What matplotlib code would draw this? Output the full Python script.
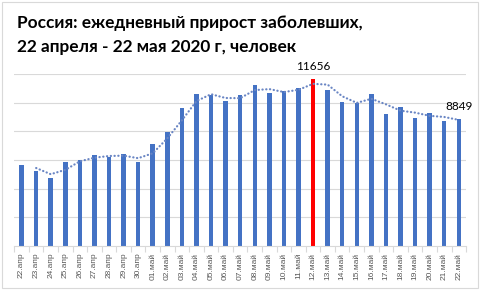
import matplotlib
matplotlib.use('Agg')
import matplotlib.pyplot as plt
import matplotlib.patches as patches
import numpy as np

dates = ['22.апр', '23.апр', '24.апр', '25.апр', '26.апр', '27.апр', '28.апр',
         '29.апр', '30.апр', '01.май', '02.май', '03.май', '04.май', '05.май',
         '06.май', '07.май', '08.май', '09.май', '10.май', '11.май', '12.май',
         '13.май', '14.май', '15.май', '16.май', '17.май', '18.май', '19.май',
         '20.май', '21.май', '22.май']
cases = [5642, 5236, 4774, 5849, 5966, 6361, 6198, 6411, 5841, 7099, 7933,
         9623, 10633, 10581, 10102, 10559, 11231, 10699, 10817, 11012, 11656,
         10899, 10028, 9974, 10598, 9200, 9709, 8926, 9263, 8764, 8849]
peak_day = '12.май'
title_lines = ['Россия: ежедневный прирост заболевших,',
               '22 апреля - 22 мая 2020 г, человек']

BLUE = '#4472c4'
RED = '#ff0000'
GRID = '#d9d9d9'


def moving_average(values, period):
    # same as Excel's moving-average trendline
    vals = np.asarray(values, dtype=float)
    avg = np.convolve(vals, np.ones(period) / period, mode='valid')
    return np.arange(period - 1, len(vals)), avg


def main():
    fig = plt.figure(figsize=(4.8, 2.92), dpi=100)
    ax = fig.add_axes([0.0298, 0.1586, 0.9412, 0.5869])

    x = np.arange(len(dates))
    colors = [RED if d == peak_day else BLUE for d in dates]
    ax.bar(x, cases, width=0.31, color=colors, zorder=2)

    tx, ty = moving_average(cases, 2)
    ax.plot(tx, ty, linestyle=(0, (0.1, 1.6)), dash_capstyle='round',
            color='#6a86c4', linewidth=1.6, zorder=3)

    peak = dates.index(peak_day)
    for i in (peak, len(dates) - 1):
        ax.annotate(str(cases[i]), (x[i], cases[i]), xytext=(0, 9.5),
                    textcoords='offset points', ha='center', va='center',
                    fontsize=8.5, family='Lato', color='black')

    ax.set_xlim(-0.5, len(dates) - 0.5)
    ax.set_ylim(0, 12000)
    ax.set_yticks(np.arange(2000, 12001, 2000))
    ax.yaxis.grid(True, color=GRID, linewidth=0.8, zorder=0)
    ax.tick_params(axis='y', length=0, labelleft=False)

    ax.set_xticks(x)
    ax.set_xticklabels(dates, rotation=90, fontsize=6, family='Liberation Sans',
                       color='#595959')
    ax.set_xticks(np.arange(-0.5, len(dates), 1), minor=True)
    ax.tick_params(axis='x', which='major', length=0, pad=5)
    ax.tick_params(axis='x', which='minor', length=4, color=GRID, width=0.8)

    for side in ('top', 'right', 'left'):
        ax.spines[side].set_visible(False)
    ax.spines['bottom'].set_color(GRID)
    ax.spines['bottom'].set_linewidth(0.8)

    fig.text(17 / 480, 1 - 28 / 292, title_lines[0], fontsize=12.4,
             family='Lato', weight='bold', va='baseline', ha='left')
    fig.text(17 / 480, 1 - 52 / 292, title_lines[1], fontsize=12.4,
             family='Lato', weight='bold', va='baseline', ha='left')

    fig.patches.append(patches.Rectangle((1.5 / 480, 4.5 / 292), 476 / 480, 286 / 292,
                                         transform=fig.transFigure, fill=False,
                                         edgecolor=GRID, linewidth=0.8))

    fig.savefig('out.png', dpi=100)


if __name__ == '__main__':
    main()
